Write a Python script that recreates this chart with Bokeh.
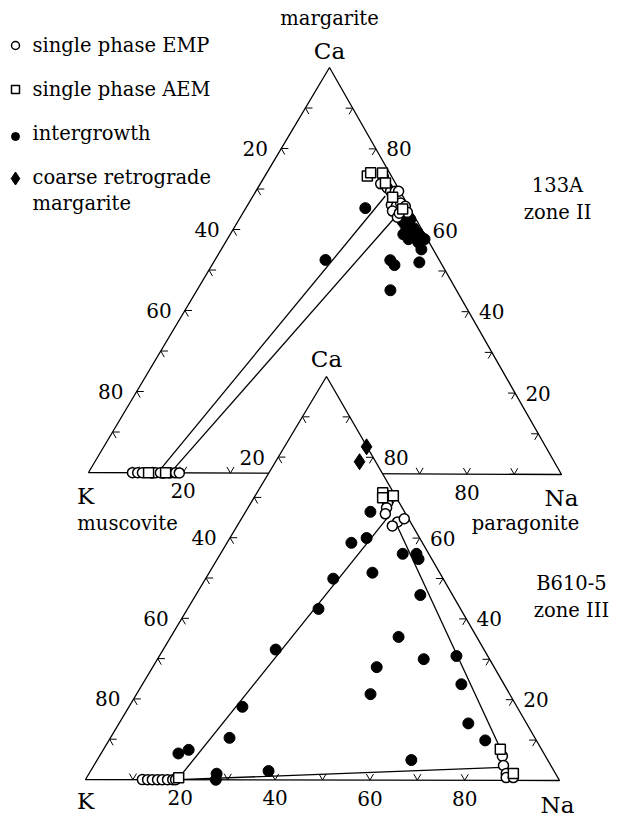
from bokeh.plotting import figure
from bokeh.models import Range1d
from bokeh.embed import file_html
from bokeh.resources import INLINE
from bokeh.core.properties import value

FONT = "DejaVu Serif"

# ---------------- data: ternary compositions in % (K = 100 - Ca - Na) ----------------
# Sample 133A, zone II (upper triangle)
top_emp_ca = [73.1, 71.4, 70.4, 69.6, 69.6, 69.6, 66.9, 66.2, 65.9, 66.7, 65.9, 64.4, 64.7, 63.2, 64.2,
              0, 0, 0, 0, 0, 0, 0, 0]
top_emp_na = [25.1, 25.4, 27.3, 28.4, 29.4, 30.1, 30.4, 30.3, 31.5, 32.0, 33.4, 34.6, 31.3, 33.1, 33.0,
              9.3, 10.4, 11.4, 14.2, 15.2, 17.3, 18.4, 19.2]
top_aem_ca = [73.3, 74.1, 74.1, 71.6, 68.1, 65.2, 0, 0]
top_aem_na = [21.6, 21.9, 24.4, 26.3, 29.6, 33.2, 12.7, 16.3]
top_int_ca = [65.4, 52.6, 52.6, 51.4, 52.1, 45.2, 55.3, 62.2, 61.2, 62.7, 60.5, 59.5, 60.2, 58.0,
              58.5, 57.8, 59.0, 59.0, 57.0, 57.8, 0, 0]
top_int_na = [25.2, 23.3, 37.0, 38.5, 43.4, 40.8, 42.2, 34.7, 35.8, 36.1, 37.9, 39.2, 36.8, 39.6,
              40.4, 41.6, 36.5, 38.4, 40.7, 38.2, 13.5, 15.8]
top_tie_ca = [[0, 68.4], [0, 62.7]]
top_tie_na = [[14.6, 27.9], [17.3, 32.5]]

# Sample B610-5, zone III (lower triangle)
bot_emp_ca = [68.7, 67.5, 66.0, 64.0, 64.8, 63.0, 6.0, 3.7, 1.7, 0.7, 0.7,
              0, 0, 0, 0, 0, 0, 0, 0]
bot_emp_na = [28.8, 29.2, 29.7, 33.3, 34.3, 32.7, 84.9, 86.3, 87.9, 88.4, 89.9,
              12.0, 13.1, 14.1, 15.2, 16.2, 17.3, 18.4, 19.0]
bot_aem_ca = [71.2, 70.0, 70.5, 7.7, 1.7, 0.5]
bot_aem_na = [26.5, 27.1, 29.1, 83.6, 89.4, 19.4]
bot_int_ca = [66.5, 58.8, 60.0, 49.9, 42.4, 32.3, 18.1, 10.4, 7.4, 6.5, 1.5, 0.0, 2.2, 56.1,
              56.1, 54.8, 51.4, 45.9, 35.5, 28.0, 30.0, 30.8, 21.3, 23.8, 14.1, 9.9, 5.0]
bot_int_na = [26.3, 26.2, 28.8, 26.9, 27.6, 23.7, 23.9, 25.1, 18.0, 16.3, 26.9, 27.5, 37.5, 38.4,
              41.3, 42.4, 34.4, 47.3, 48.0, 47.2, 56.1, 62.6, 49.3, 67.2, 73.6, 79.3, 66.2]
bot_ret_ca = [82.6, 78.9]
bot_ret_na = [17.3, 17.7]
bot_tie_ca = [[0, 66.0], [63.8, 7.9], [0, 3.2]]
bot_tie_na = [[19.4, 30.8], [33.0, 83.5], [19.4, 86.3]]

tick_values = [10, 20, 30, 40, 50, 60, 70, 80, 90]
label_values = [20, 40, 60, 80]

# ---------------- layout ----------------
W, H = 619, 816
TOP = dict(K=(88.0, 472.0), Na=(561.0, 474.0), Ca=(329.0, 67.0))
BOT = dict(K=(85.0, 779.0), Na=(559.0, 780.0), Ca=(326.0, 376.0))


def tern(ca, na, T):
    k = 100.0 - ca - na
    x = (T["K"][0] * k + T["Na"][0] * na + T["Ca"][0] * ca) / 100.0
    y = (T["K"][1] * k + T["Na"][1] * na + T["Ca"][1] * ca) / 100.0
    return x, y


def terns(cas, nas, T):
    pts = [tern(c, n, T) for c, n in zip(cas, nas)]
    return [q[0] for q in pts], [q[1] for q in pts]


p = figure(width=W, height=H, x_range=Range1d(0, W), y_range=Range1d(H, 0),
           output_backend="svg", toolbar_location=None, min_border=0,
           x_axis_location=None, y_axis_location=None)
p.grid.visible = False
p.outline_line_color = None
p.background_fill_color = "white"
p.border_fill_color = "white"

LW = 1.3
NUM_SIZE = "20px"
VTX_SIZE = "23px"
TXT_SIZE = "19.5px"


def draw_triangle(T, emp, aem, intg, ties, ret=None):
    # outline, white filled so that it masks what is behind
    xs = [T["K"][0], T["Na"][0], T["Ca"][0]]
    ys = [T["K"][1], T["Na"][1], T["Ca"][1]]
    p.patch(xs, ys, fill_color="white", line_color="black", line_width=LW)

    # chevron ticks along grid directions
    d = 1.5
    txs, tys = [], []
    for v in tick_values:
        a = tern(d, v, T); b = tern(0, v, T); c = tern(d, v - d, T)
        txs.append([a[0], b[0], c[0]]); tys.append([a[1], b[1], c[1]])
        ca = 100 - v
        a = tern(ca, d, T); b = tern(ca, 0, T); c = tern(ca - d, d, T)
        txs.append([a[0], b[0], c[0]]); tys.append([a[1], b[1], c[1]])
        a = tern(v, 100 - v - d, T); b = tern(v, 100 - v, T); c = tern(v - d, 100 - v, T)
        txs.append([a[0], b[0], c[0]]); tys.append([a[1], b[1], c[1]])
    p.multi_line(txs, tys, line_color="black", line_width=1.0)

    # tick labels
    bx, by = terns([0] * 4, label_values, T)
    p.text(bx, by, text=[str(v) for v in label_values], text_font=value(FONT),
           text_font_size=NUM_SIZE, text_align="center", text_baseline="middle", y_offset=18)
    lx, ly = terns([100 - v for v in label_values], [0] * 4, T)
    p.text(lx, ly, text=[str(v) for v in label_values], text_font=value(FONT),
           text_font_size=NUM_SIZE, text_align="center", text_baseline="middle", x_offset=-26)
    rx, ry = terns(label_values, [100 - v for v in label_values], T)
    p.text(rx, ry, text=[str(v) for v in label_values], text_font=value(FONT),
           text_font_size=NUM_SIZE, text_align="center", text_baseline="middle", x_offset=23)

    # tie lines
    lxs, lys = [], []
    for cas, nas in zip(*ties):
        xx, yy = terns(cas, nas, T)
        lxs.append(xx); lys.append(yy)
    p.multi_line(lxs, lys, line_color="black", line_width=LW)

    # data points
    ix, iy = terns(*intg, T)
    p.scatter(ix, iy, marker="circle", size=11, fill_color="black", line_color="black")
    ex, ey = terns(*emp, T)
    p.scatter(ex, ey, marker="circle", size=10, fill_color="white", line_color="black", line_width=1.5)
    ax_, ay_ = terns(*aem, T)
    p.scatter(ax_, ay_, marker="square", size=10, fill_color="white", line_color="black", line_width=1.5)
    if ret is not None:
        rx2, ry2 = terns(*ret, T)
        p.scatter(rx2, ry2, marker="diamond", size=16, fill_color="black", line_color="black")


draw_triangle(TOP, (top_emp_ca, top_emp_na), (top_aem_ca, top_aem_na),
              (top_int_ca, top_int_na), (top_tie_ca, top_tie_na))

# top vertex labels
p.text([TOP["Ca"][0]], [TOP["Ca"][1]], text=["Ca"], text_font=value(FONT), text_font_size=VTX_SIZE,
       text_align="center", text_baseline="middle", y_offset=-17)
p.text([TOP["Ca"][0]], [TOP["Ca"][1]], text=["margarite"], text_font=value(FONT), text_font_size=TXT_SIZE,
       text_align="center", text_baseline="middle", y_offset=-49)
p.text([TOP["K"][0]], [TOP["K"][1]], text=["K"], text_font=value(FONT), text_font_size=VTX_SIZE,
       text_align="center", text_baseline="middle", x_offset=-3, y_offset=23)
p.text([TOP["K"][0]], [TOP["K"][1]], text=["muscovite"], text_font=value(FONT), text_font_size=TXT_SIZE,
       text_align="center", text_baseline="middle", x_offset=39, y_offset=51)
p.text([TOP["Na"][0]], [TOP["Na"][1]], text=["Na"], text_font=value(FONT), text_font_size=VTX_SIZE,
       text_align="center", text_baseline="middle", y_offset=23)
p.text([TOP["Na"][0]], [TOP["Na"][1]], text=["paragonite"], text_font=value(FONT), text_font_size=TXT_SIZE,
       text_align="center", text_baseline="middle", x_offset=-36, y_offset=49)

draw_triangle(BOT, (bot_emp_ca, bot_emp_na), (bot_aem_ca, bot_aem_na),
              (bot_int_ca, bot_int_na), (bot_tie_ca, bot_tie_na), ret=(bot_ret_ca, bot_ret_na))

p.text([BOT["Ca"][0]], [BOT["Ca"][1]], text=["Ca"], text_font=value(FONT), text_font_size=VTX_SIZE,
       text_align="center", text_baseline="middle", y_offset=-18)
p.text([BOT["K"][0]], [BOT["K"][1]], text=["K"], text_font=value(FONT), text_font_size=VTX_SIZE,
       text_align="center", text_baseline="middle", y_offset=21)
p.text([BOT["Na"][0]], [BOT["Na"][1]], text=["Na"], text_font=value(FONT), text_font_size=VTX_SIZE,
       text_align="center", text_baseline="middle", x_offset=-2, y_offset=24)

# sample names
p.text([557, 557], [185, 212], text=["133A", "zone II"], text_font=value(FONT), text_font_size=TXT_SIZE,
       text_align="center", text_baseline="middle")
p.text([571, 571], [583, 610], text=["B610-5", "zone III"], text_font=value(FONT), text_font_size=TXT_SIZE,
       text_align="center", text_baseline="middle")

# legend
leg_y = [45, 89, 136, 178]
p.scatter([15], [leg_y[0]], marker="circle", size=8, fill_color="white", line_color="black", line_width=1.5)
p.scatter([15], [leg_y[1]], marker="square", size=8, fill_color="white", line_color="black", line_width=1.5)
p.scatter([15], [leg_y[2]], marker="circle", size=8, fill_color="black", line_color="black")
p.scatter([15], [leg_y[3]], marker="diamond", size=13, fill_color="black", line_color="black")
p.text([32] * 5, [45, 89, 133, 177, 203],
       text=["single phase EMP", "single phase AEM", "intergrowth", "coarse retrograde", "margarite"],
       text_font=value(FONT), text_font_size=TXT_SIZE, text_align="left", text_baseline="middle")

open("out.html", "w").write(file_html(p, INLINE))
